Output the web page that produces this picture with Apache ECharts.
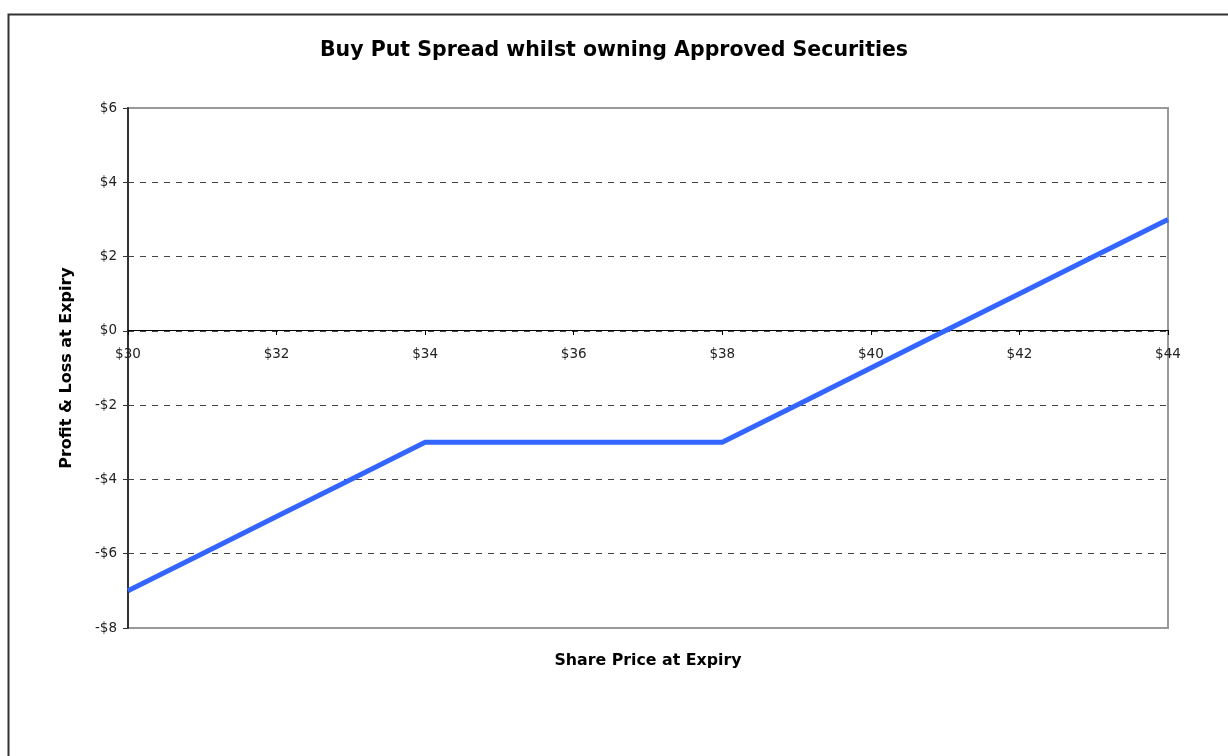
<!DOCTYPE html>
<html>
<head>
<meta charset="utf-8">
<script src="https://cdn.jsdelivr.net/npm/echarts@6/dist/echarts.min.js"></script>
<style>
html,body{margin:0;padding:0;background:#fff;}
#chart{width:1228px;height:756px;}
</style>
</head>
<body>
<div id="chart"></div>
<script>
const sharePrices = [30, 31, 32, 33, 34, 35, 36, 37, 38, 39, 40, 41, 42, 43, 44];
const profitLoss = [-7, -6, -5, -4, -3, -3, -3, -3, -3, -2, -1, 0, 1, 2, 3];
const chartTitle = 'Buy Put Spread whilst owning Approved Securities';
const xAxisTitle = 'Share Price at Expiry';
const yAxisTitle = 'Profit & Loss at Expiry';

function money(v) {
  return v < 0 ? '-$' + Math.abs(v) : '$' + v;
}

const chart = echarts.init(document.getElementById('chart'), null, {renderer: 'canvas'});
const FONT = '"DejaVu Sans", "Noto Sans", sans-serif';
chart.setOption({
  animation: false,
  backgroundColor: '#fff',
  textStyle: {fontFamily: FONT},
  title: {
    text: chartTitle,
    left: 609,
    textAlign: 'center',
    top: 35,
    textStyle: {fontFamily: FONT, fontWeight: 'bold', fontSize: 20.5, color: '#000'}
  },
  graphic: [
    {type: 'rect', left: 6, top: 12, shape: {width: 1240, height: 760},
     style: {fill: 'none', stroke: '#333', lineWidth: 2}, z: -1},
    {type: 'text', x: 648, y: 661,
     style: {text: xAxisTitle, fontFamily: FONT, fontWeight: 'bold', fontSize: 15.8, fill: '#000',
             textAlign: 'center', textVerticalAlign: 'middle'}}
  ],
  grid: {
    left: 128, right: 60, top: 108, bottom: 128,
    show: true, borderColor: '#999', borderWidth: 2, backgroundColor: 'transparent'
  },
  xAxis: {
    type: 'value', min: 30, max: 44, interval: 2,
    position: 'bottom', offset: -298,
    axisLine: {onZero: false, lineStyle: {color: '#000', width: 1}},
    axisTick: {show: true, inside: false, length: 5, lineStyle: {color: '#000'}},
    axisLabel: {formatter: money, color: '#222', fontSize: 13.5, margin: 17, fontFamily: FONT},
    splitLine: {show: false}
  },
  yAxis: {
    type: 'value', min: -8, max: 6, interval: 2,
    name: yAxisTitle, nameLocation: 'middle', nameGap: 53, nameRotate: 90,
    nameTextStyle: {fontFamily: FONT, fontWeight: 'bold', fontSize: 16, color: '#000'},
    axisLine: {show: true, onZero: false, lineStyle: {color: '#333', width: 2}},
    axisTick: {show: true, inside: false, length: 5, lineStyle: {color: '#333'}},
    axisLabel: {formatter: money, color: '#222', fontSize: 13.5, margin: 11, fontFamily: FONT},
    splitLine: {show: true, showMinLine: false, showMaxLine: false,
                lineStyle: {color: '#444', type: [6, 6], width: 1}}
  },
  series: [{
    type: 'line',
    data: sharePrices.map((x, i) => [x, profitLoss[i]]),
    showSymbol: false,
    symbol: 'none',
    lineStyle: {color: '#3366ff', width: 5},
    z: 5
  }]
});
</script>
</body>
</html>
